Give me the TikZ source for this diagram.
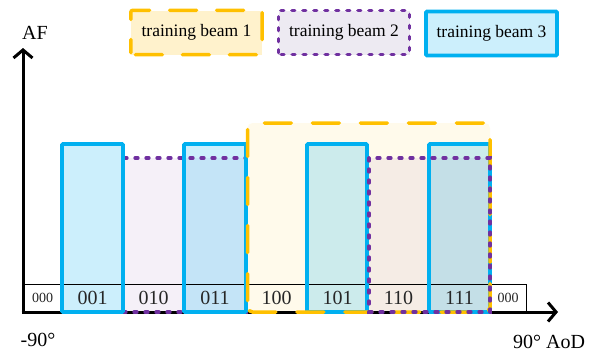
\documentclass[tikz,border=0pt]{standalone}
\usepackage{fontspec}
\setmainfont{Liberation Serif}
\usetikzlibrary{arrows.meta}
\definecolor{yel}{HTML}{FFC000}
\definecolor{pur}{HTML}{7030A0}
\definecolor{blu}{HTML}{00B0F0}
\definecolor{lav}{HTML}{EDEAF2}
\tikzset{
  x=1pt, y=-1pt,
  cell/.style={draw=black, line width=0.8pt, inner sep=0pt, minimum height=28pt,
               text=black!85, font=\fontsize{20}{24}\selectfont},
  smallcell/.style={cell, font=\fontsize{14}{16}\selectfont},
  axis/.style={line width=3pt, -{Straight Barb[length=8pt,width=19pt,line width=3pt]}},
  lbl/.style={inner sep=0pt, font=\fontsize{20}{24}\selectfont},
  beamone/.style={draw=yel, line width=3.5pt, line cap=round, dash pattern=on 27pt off 21pt, rounded corners=5pt},
  beamtwo/.style={draw=pur, line width=3.3pt, line cap=round, dash pattern=on 3pt off 8pt},
  beamthree/.style={draw=blu, line width=3.6pt, rounded corners=1pt},
  legend/.style={inner sep=0pt, minimum width=131pt, minimum height=44pt,
                 font=\fontsize{17.5}{20}\selectfont}
}
\begin{document}
\begin{tikzpicture}
\useasboundingbox (0,0) rectangle (599,356);

% region fills
\fill[yel, opacity=0.08, rounded corners=5pt] (247.5,123) rectangle (490,312);
\fill[pur, opacity=0.07] (123,158) rectangle (246,312);
\fill[pur, opacity=0.07] (369,158) rectangle (490,312);
\foreach \a/\b in {62/123,184/246,307/367,429/490}
  \fill[blu, opacity=0.2] (\a,144) rectangle (\b,312);

% codeword row
\node[smallcell, minimum width=39pt] (c0) at (42.5,298) {000};
\node[cell, minimum width=61pt] (c1) at (92.5,298) {001};
\node[cell, minimum width=61pt] (c2) at (153.5,298) {010};
\node[cell, minimum width=62pt] (c3) at (215,298) {011};
\node[cell, minimum width=61pt] (c4) at (276.5,298) {100};
\node[cell, minimum width=61pt] (c5) at (337.5,298) {101};
\node[cell, minimum width=61pt] (c6) at (398.5,298) {110};
\node[cell, minimum width=61pt] (c7) at (459.5,298) {111};
\node[smallcell, minimum width=36pt] (c8) at (508,298) {000};

% axes
\coordinate (o) at (23,312);
\coordinate (ytop) at (23,48);
\coordinate (xend) at (558,312);
\draw[axis] (o) -- (ytop);
\draw[axis] ([xshift=-1.5pt]o) -- (xend);

\node[lbl] (af) at (35,33) {AF};
\node[lbl] (lo) at (38,340) {-90°};
\node[lbl] (hi) at (549,342) {90° AoD};

% beam outlines
\draw[beamtwo] (123,158) rectangle (246,312);
\foreach \a/\b in {62/123,184/246,307/367,429/490}
  \draw[beamthree] (\a,144) rectangle (\b,312);
\draw[beamone, dash phase=41.5pt] (247.5,312) rectangle (490,123);
\draw[beamtwo] (369,158) rectangle (490,312);

% legend
\node[legend, fill=yel!20] (l1) at (196.5,32.5) {training beam 1};
\draw[beamone, rounded corners=2pt, dash pattern=on 27pt off 20pt, dash phase=13.75pt] (l1.south west) rectangle (l1.north east);
\node[legend, fill=lav] (l2) at (344,32.5) {training beam 2};
\draw[beamtwo, rounded corners=2pt] (l2.south west) rectangle (l2.north east);
\node[legend, fill=blu!20, draw=blu, line width=3.6pt, rounded corners=1pt] (l3) at (491.5,33.5) {training beam 3};
\end{tikzpicture}
\end{document}
